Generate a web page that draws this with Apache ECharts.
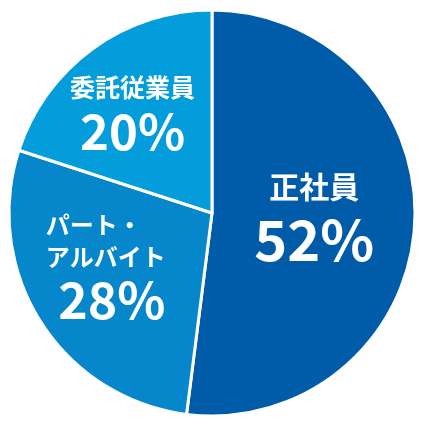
<!DOCTYPE html>
<html>
<head>
<meta charset="utf-8">
<title>雇用形態</title>
<script src="https://cdn.jsdelivr.net/npm/echarts@6/dist/echarts.min.js"></script>
<style>
  html, body { margin: 0; padding: 0; background: #fff; }
  #chart { width: 426px; height: 426px; }
</style>
</head>
<body>
<div id="chart"></div>
<script>
  // 雇用形態の割合
  var names = ['正社員', 'パート・\nアルバイト', '委託従業員'];
  var values = [52, 28, 20];
  var colors = ['#005ca8', '#0686cb', '#049ddc'];

  // ラベルの微調整 (dx, dy)
  var nudge = [[-2, 1], [-18, -1], [-18, -14]];
  var nameSize = [30, 24, 25];
  var valueSize = [56, 50, 49];
  var valueGap = [12, 4, 4];
  var valueIndent = [0, 12, 0];

  var chart = echarts.init(document.getElementById('chart'));

  var data = names.map(function (n, i) {
    var lines = n.split('\n').map(function (s) { return '{n' + i + '|' + s + '}'; });
    return {
      name: n,
      value: values[i],
      itemStyle: { color: colors[i] },
      label: {
        formatter: lines.join('\n') + '\n{v' + i + '|' + values[i] + '%}'
      }
    };
  });

  var rich = {};
  names.forEach(function (n, i) {
    rich['n' + i] = {
      color: '#fff', fontSize: nameSize[i], fontWeight: 'bold',
      fontFamily: 'Noto Sans CJK JP', lineHeight: nameSize[i] + 8,
      align: i === 1 ? 'left' : 'center'
    };
    rich['v' + i] = {
      color: '#fff', fontSize: valueSize[i], fontWeight: 'bold',
      fontFamily: 'Noto Sans CJK JP', lineHeight: valueSize[i] + valueGap[i],
      align: 'center', padding: [0, 0, 0, valueIndent[i]]
    };
  });

  chart.setOption({
    animation: false,
    series: [{
      type: 'pie',
      center: [212, 213],
      radius: [0, 203],
      startAngle: 90,
      clockwise: true,
      label: {
        show: true,
        position: 'inside',
        rich: rich
      },
      labelLine: { show: false },
      labelLayout: function (p) {
        return { dx: nudge[p.dataIndex][0], dy: nudge[p.dataIndex][1] };
      },
      itemStyle: { borderColor: '#fff', borderWidth: 3 },
      emphasis: { disabled: true },
      data: data
    }]
  });
</script>
</body>
</html>
